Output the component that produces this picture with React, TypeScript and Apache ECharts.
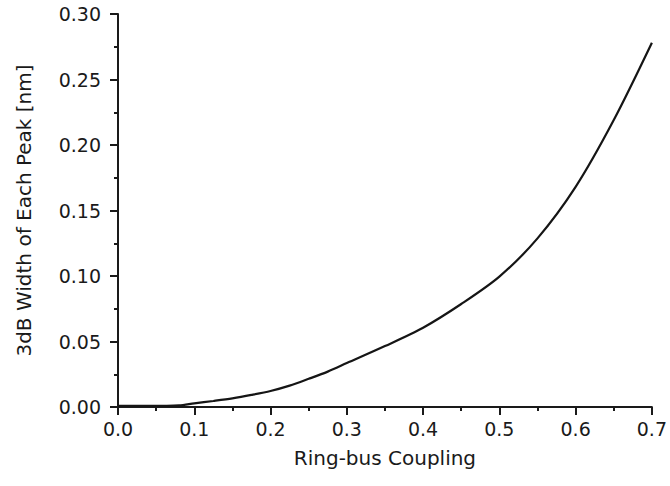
import React, { useEffect, useRef } from "react";
import * as echarts from "echarts";

// Ring-bus coupling coefficient vs. 3dB peak width (nm)
const coupling = [0.0, 0.04, 0.08, 0.1, 0.125, 0.15, 0.175, 0.2, 0.225, 0.25, 0.275, 0.3, 0.35, 0.4, 0.45, 0.5, 0.55, 0.6, 0.65, 0.7];
const width3dB = [0.0008, 0.0008, 0.0012, 0.0028, 0.0046, 0.0066, 0.0092, 0.0122, 0.0163, 0.0215, 0.027, 0.0335, 0.0465, 0.0605, 0.0786, 0.0995, 0.1287, 0.168, 0.219, 0.278];

const xTicks = { min: 0, max: 0.7, interval: 0.1 };
const yTicks = { min: 0, max: 0.3, interval: 0.05 };

const axisColor = "#1a1a1a";
const font = "DejaVu Sans";

export default function App() {
  const ref = useRef<HTMLDivElement>(null);

  useEffect(() => {
    document.body.style.margin = "0";
    if (!ref.current) return;
    const chart = echarts.init(ref.current, null, { renderer: "svg" });
    const axisCommon = {
      type: "value" as const,
      nameLocation: "middle" as const,
      splitLine: { show: false },
      axisLine: { show: true, onZero: false, lineStyle: { color: axisColor, width: 2 } },
      axisTick: { show: true, inside: false, length: 8, lineStyle: { color: axisColor, width: 2 } },
      minorTick: { show: true, splitNumber: 2, length: 4, lineStyle: { color: axisColor, width: 2 } },
      minorSplitLine: { show: false },
    };
    chart.setOption({
      animation: false,
      backgroundColor: "#ffffff",
      grid: { left: 118, right: 15, top: 14, bottom: 79, containLabel: false },
      xAxis: {
        ...axisCommon,
        ...xTicks,
        name: "Ring-bus Coupling",
        nameGap: 41,
        nameTextStyle: { fontFamily: font, fontSize: 20, color: axisColor },
        axisLabel: {
          margin: 12,
          fontFamily: font,
          fontSize: 19,
          color: axisColor,
          formatter: (v: number) => v.toFixed(1),
        },
      },
      yAxis: {
        ...axisCommon,
        ...yTicks,
        name: "3dB Width of Each Peak [nm]",
        nameGap: 84,
        nameTextStyle: { fontFamily: font, fontSize: 20, color: axisColor },
        axisLabel: {
          margin: 17,
          fontFamily: font,
          fontSize: 19,
          color: axisColor,
          formatter: (v: number) => v.toFixed(2),
        },
      },
      series: [
        {
          type: "line",
          data: coupling.map((c, i) => [c, width3dB[i]]),
          smooth: 0.3,
          showSymbol: false,
          lineStyle: { color: "#151515", width: 2.2 },
        },
      ],
    });
    return () => chart.dispose();
  }, []);

  return <div ref={ref} style={{ width: 670, height: 486 }} />;
}
